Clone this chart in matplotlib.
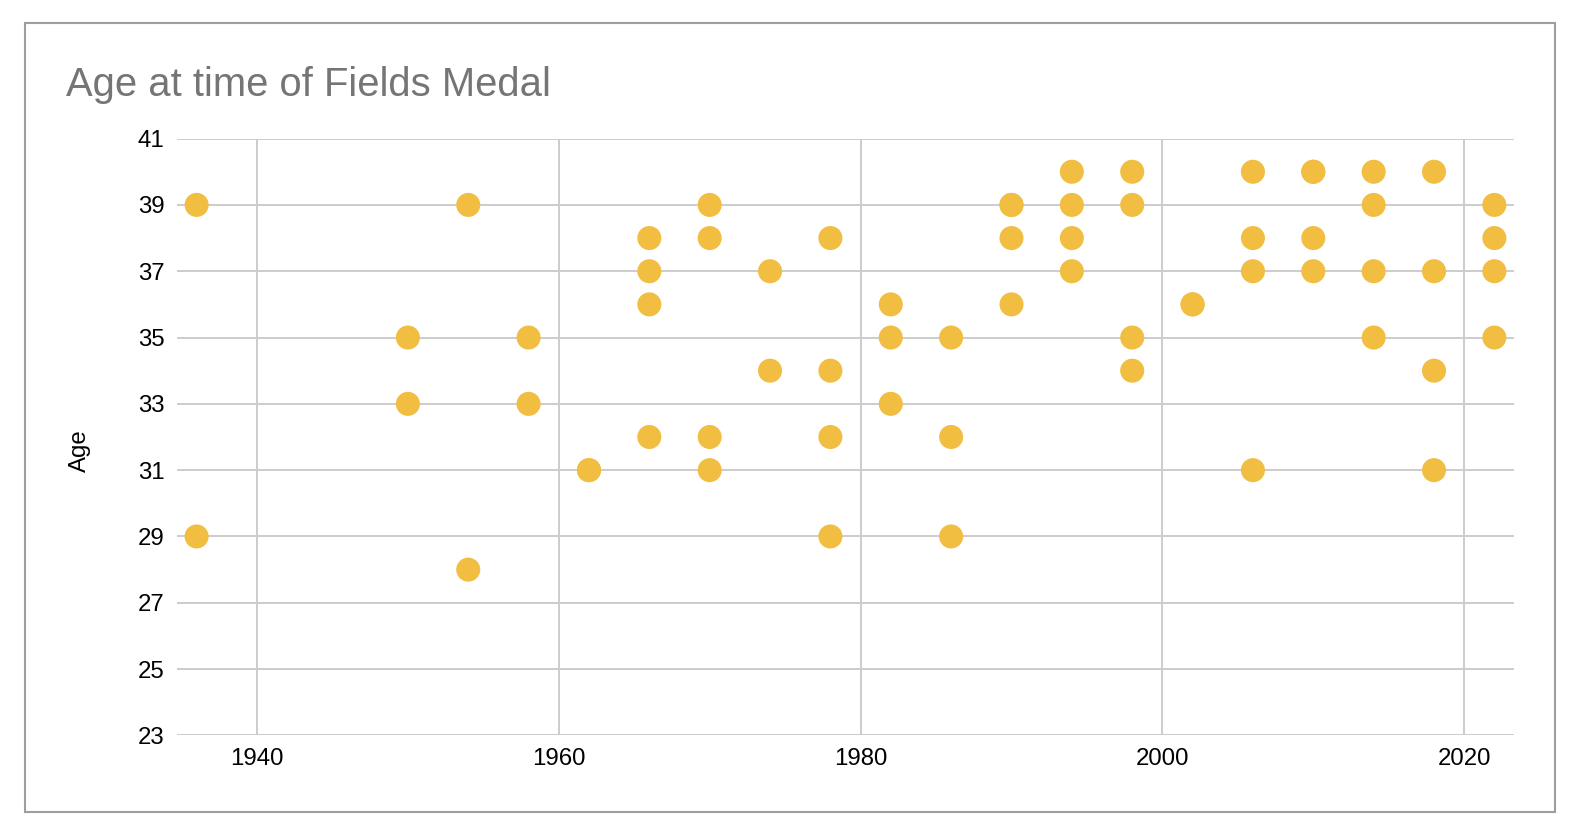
import matplotlib
matplotlib.use('Agg')
import matplotlib.pyplot as plt
from matplotlib.patches import Rectangle

plt.rcParams['font.family'] = ['Liberation Sans', 'DejaVu Sans']

# Fields Medal year and age of each medallist
years = [1936, 1936,
         1950, 1950,
         1954, 1954,
         1958, 1958,
         1962, 1962,
         1966, 1966, 1966, 1966,
         1970, 1970, 1970, 1970,
         1974, 1974,
         1978, 1978, 1978, 1978,
         1982, 1982, 1982,
         1986, 1986, 1986,
         1990, 1990, 1990, 1990,
         1994, 1994, 1994, 1994,
         1998, 1998, 1998, 1998,
         2002, 2002,
         2006, 2006, 2006, 2006,
         2010, 2010, 2010, 2010,
         2014, 2014, 2014, 2014,
         2018, 2018, 2018, 2018,
         2022, 2022, 2022, 2022]
ages = [39, 29,
        35, 33,
        39, 28,
        35, 33,
        31, 31,
        38, 37, 36, 32,
        39, 38, 32, 31,
        37, 34,
        38, 34, 32, 29,
        36, 35, 33,
        35, 32, 29,
        39, 39, 38, 36,
        40, 39, 38, 37,
        40, 39, 35, 34,
        36, 36,
        40, 38, 37, 31,
        40, 40, 38, 37,
        40, 39, 37, 35,
        40, 37, 34, 31,
        39, 38, 37, 35]

yticks = list(range(23, 42, 2))
xticks = [1940, 1960, 1980, 2000, 2020]

W, H = 1586, 838
fig = plt.figure(figsize=(W / 100, H / 100), dpi=100)

# outer chart border
fig.patches.append(Rectangle((24.5 / W, 1 - 811.5 / H), (1554.5 - 24.5) / W, (811.5 - 23) / H,
                             transform=fig.transFigure, fill=False,
                             edgecolor='#9e9e9e', linewidth=1.5))

left, right, top, bottom = 177, 1514, 138.6, 735.4
ax = fig.add_axes([left / W, 1 - bottom / H, (right - left) / W, (bottom - top) / H])

ax.scatter(years, ages, s=300, color='#f2be42', edgecolors='none', zorder=3, clip_on=False)

ax.set_xlim(1934.7, 2023.3)
ax.set_ylim(23, 41)
ax.set_xticks(xticks)
ax.set_yticks(yticks)
ax.grid(True, color='#cccccc', linewidth=1.4)
ax.set_axisbelow(True)
for s in ax.spines.values():
    s.set_visible(False)
ax.tick_params(length=0, labelsize=17.3, colors='black')
ax.tick_params(axis='y', pad=9)
ax.tick_params(axis='x', pad=9)

ax.set_ylabel('Age', fontsize=17.3, color='black')
ax.yaxis.set_label_coords(-0.064, 0.478)

fig.text(65.7 / W, 1 - 96 / H, 'Age at time of Fields Medal', fontsize=28.8,
         color='#757575', ha='left', va='baseline')

fig.savefig('out.png', dpi=100)
